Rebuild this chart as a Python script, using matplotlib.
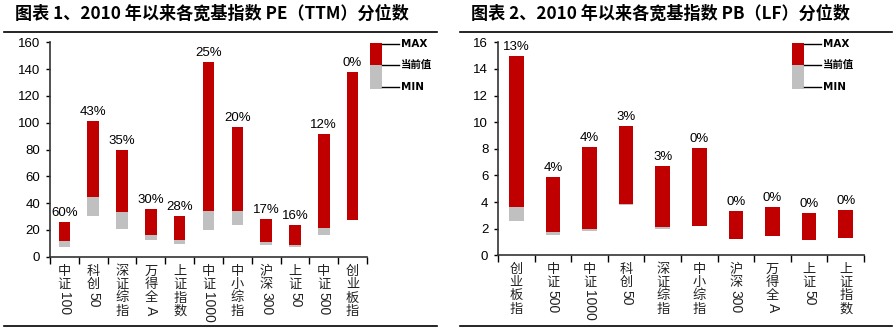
import matplotlib
matplotlib.use("Agg")
import matplotlib.pyplot as plt
from matplotlib.patches import Rectangle
from matplotlib.lines import Line2D
import numpy as np

plt.rcParams['font.family'] = ['Liberation Sans', 'Noto Sans CJK SC', 'DejaVu Sans']

RED = '#C00000'
GRAY = '#C0C0C0'
W, H = 895, 330

# PE (TTM)
pe_names = ['中证100', '科创50', '深证综指', '万得全A', '上证指数', '中证1000',
            '中小综指', '沪深300', '上证50', '中证500', '创业板指']
pe_max = [26.1, 101.5, 79.4, 35.3, 30.6, 145.0, 96.8, 28.4, 23.6, 91.5, 138.0]
pe_cur = [11.9, 44.8, 33.3, 16.2, 12.4, 34.3, 34.3, 10.7, 9.0, 21.1, 27.4]
pe_min = [7.5, 30.3, 20.9, 12.2, 9.7, 19.9, 23.4, 8.7, 7.5, 16.2, 27.4]
pe_pct = ['60%', '43%', '35%', '30%', '28%', '25%', '20%', '17%', '16%', '12%', '0%']

# PB (LF)
pb_names = ['创业板指', '中证500', '中证1000', '科创50', '深证综指', '中小综指',
            '沪深300', '万得全A', '上证50', '上证指数']
pb_max = [15.0, 5.9, 8.16, 9.74, 6.73, 8.06, 3.36, 3.6, 3.18, 3.38]
pb_cur = [3.66, 1.75, 1.95, 3.86, 2.1, 2.2, 1.25, 1.48, 1.13, 1.28]
pb_min = [2.6, 1.53, 1.8, 3.8, 2.0, 2.2, 1.25, 1.48, 1.13, 1.28]
pb_pct = ['13%', '4%', '4%', '3%', '3%', '0%', '0%', '0%', '0%', '0%']

fig = plt.figure(figsize=(W / 100, H / 100), dpi=100)


def px_axes(l, t, r, b):
    return fig.add_axes([l / W, 1 - b / H, (r - l) / W, (b - t) / H])


def fig_line(x0, x1, y, lw=1.2):
    fig.add_artist(Line2D([x0 / W, x1 / W], [1 - y / H, 1 - y / H],
                          transform=fig.transFigure, color='black', lw=lw))


def legend(x0, top):
    # red block, gray block, connector lines and labels
    fig.add_artist(Rectangle((x0 / W, 1 - (top + 22) / H), 12 / W, 22 / H,
                             transform=fig.transFigure, color=RED, lw=0))
    fig.add_artist(Rectangle((x0 / W, 1 - (top + 46) / H), 12 / W, 24 / H,
                             transform=fig.transFigure, color=GRAY, lw=0))
    for dy, lab in [(1, 'MAX'), (22, '当前值'), (44, 'MIN')]:
        fig.add_artist(Line2D([(x0 + 12) / W, (x0 + 29) / W],
                              [1 - (top + dy) / H] * 2,
                              transform=fig.transFigure, color='black', lw=1))
        fig.text((x0 + 31) / W, 1 - (top + dy) / H, lab, fontsize=7.5,
                 fontweight='heavy', va='center', ha='left',
                 family=['DejaVu Sans', 'Noto Sans CJK SC'])


def draw(ax, names, vmax, vcur, vmin, pct, ymax, ystep, first_off):
    x = np.arange(len(names))
    vmax = np.array(vmax); vcur = np.array(vcur); vmin = np.array(vmin)
    ax.bar(x, vcur - vmin, bottom=vmin, width=0.4, color=GRAY, lw=0)
    ax.bar(x, vmax - vcur, bottom=vcur, width=0.4, color=RED, lw=0)
    for i in range(len(names)):
        ax.annotate(pct[i], (x[i], vmax[i]), xytext=(0, 3),
                    textcoords='offset pixels', ha='center', va='bottom',
                    fontsize=9.5)
    ax.set_xlim(-0.5, len(names) - 0.5)
    ax.set_ylim(0, ymax)
    ax.set_yticks(np.arange(0, ymax + 0.1, ystep))
    ax.set_xticks(np.arange(-0.5, len(names)))
    ax.set_xticklabels([])
    ax.tick_params(axis='x', length=5, width=1, direction='out')
    ax.tick_params(axis='y', length=3, width=1, direction='out', labelsize=9.5, pad=4)
    for s in ['top', 'right']:
        ax.spines[s].set_visible(False)
    for s in ['left', 'bottom']:
        ax.spines[s].set_color('#333333')
        ax.spines[s].set_linewidth(1.2)
    ax.patch.set_alpha(0)

    # vertical category labels: CJK stacked, latin part rotated
    step = 13.3
    tr = ax.get_xaxis_transform()
    for i, name in enumerate(names):
        cjk = [c for c in name if ord(c) > 255]
        rest = ''.join(c for c in name if ord(c) <= 255)
        for k, c in enumerate(cjk):
            ax.annotate(c, (x[i], 0), xycoords=tr,
                        xytext=(0, -(first_off + k * step)),
                        textcoords='offset pixels', ha='center', va='center',
                        fontsize=9.5, family=['Noto Sans CJK SC'], color='#222222')
        if rest:
            ax.annotate(rest, (x[i], 0), xycoords=tr,
                        xytext=(0, -(first_off + (len(cjk) - 1) * step + 7.5)),
                        textcoords='offset pixels', ha='center', va='top',
                        rotation=-90, fontsize=10, color='#222222')


ax1 = px_axes(50, 42.3, 367, 256.7)
draw(ax1, pe_names, pe_max, pe_cur, pe_min, pe_pct, 160, 20, 14.7)
ax2 = px_axes(498, 42.3, 864, 255.3)
draw(ax2, pb_names, pb_max, pb_cur, pb_min, pb_pct, 16, 2, 14)

fig.text(15 / W, 1 - 14 / H, '图表 1、2010 年以来各宽基指数 PE（TTM）分位数',
         fontsize=12.3, fontweight='heavy', va='center', ha='left',
         family=['Noto Sans CJK SC'])
fig.text(471 / W, 1 - 14 / H, '图表 2、2010 年以来各宽基指数 PB（LF）分位数',
         fontsize=12.3, fontweight='heavy', va='center', ha='left',
         family=['Noto Sans CJK SC'])

fig_line(4, 437, 32)
fig_line(4, 437, 326)
fig_line(460, 892, 32)
fig_line(460, 892, 326)

legend(370, 43)
legend(792, 43)

fig.savefig('out.png', dpi=100)
